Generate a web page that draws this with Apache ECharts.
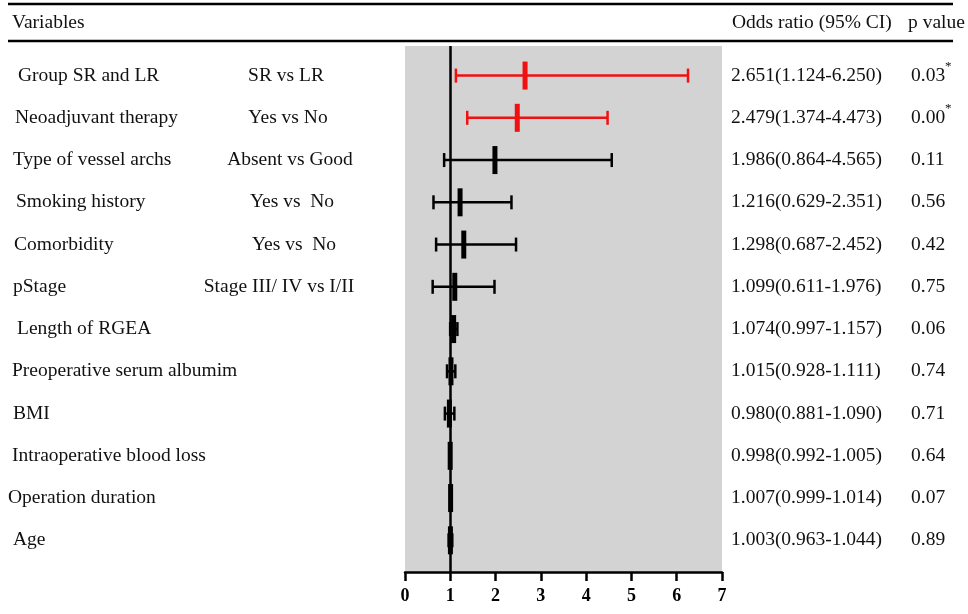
<!DOCTYPE html>
<html>
<head>
<meta charset="utf-8">
<script src="https://cdn.jsdelivr.net/npm/echarts@6/dist/echarts.min.js"></script>
<style>
    html, body {margin: 0; padding: 0; background: #ffffff;}
    #main {width: 968px; height: 614px;}
</style>
</head>
<body>
<div id="main"></div>
<script>
// rows, top to bottom
const variables = ['Group SR and LR', 'Neoadjuvant therapy', 'Type of vessel archs', 'Smoking history',
    'Comorbidity', 'pStage', 'Length of RGEA', 'Preoperative serum albumim', 'BMI',
    'Intraoperative blood loss', 'Operation duration', 'Age'];
const comparisons = ['SR vs LR', 'Yes vs No', 'Absent vs Good', 'Yes vs  No', 'Yes vs  No',
    'Stage III/ IV vs I/II', '', '', '', '', '', ''];
const oddsRatio = [2.651, 2.479, 1.986, 1.216, 1.298, 1.099, 1.074, 1.015, 0.980, 0.998, 1.007, 1.003];
const ciLow = [1.124, 1.374, 0.864, 0.629, 0.687, 0.611, 0.997, 0.928, 0.881, 0.992, 0.999, 0.963];
const ciHigh = [6.250, 4.473, 4.565, 2.351, 2.452, 1.976, 1.157, 1.111, 1.090, 1.005, 1.014, 1.044];
const pValues = ['0.03', '0.00', '0.11', '0.56', '0.42', '0.75', '0.06', '0.74', '0.71', '0.64', '0.07', '0.89'];
const xTicks = [0, 1, 2, 3, 4, 5, 6, 7];

// label placement (the source table is indented by hand)
const labelLeft = [18, 15, 13, 16, 14, 13, 17, 12, 13, 12, 8, 13];
const compCenter = [286, 288, 290, 292, 294, 279, 0, 0, 0, 0, 0, 0];

const FONT = '"Liberation Serif", "Times New Roman", serif';
const FS = '19.5px ';
const RED = '#f01010';

let chart = echarts.init(document.getElementById('main'), null, {renderer: 'canvas'});

const ciData = oddsRatio.map((v, i) => [i, ciLow[i], ciHigh[i], v, parseFloat(pValues[i]) < 0.05 ? 1 : 0]);

function renderCI(params, api) {
    const y = api.value(0);
    const lo = api.coord([api.value(1), y]);
    const hi = api.coord([api.value(2), y]);
    const mid = api.coord([api.value(3), y]);
    const color = api.value(4) ? RED : '#000000';
    const ls = {stroke: color, lineWidth: 2.5};
    return {
        type: 'group',
        children: [
            {type: 'line', shape: {x1: lo[0], y1: lo[1], x2: hi[0], y2: hi[1]}, style: ls},
            {type: 'line', shape: {x1: lo[0], y1: lo[1] - 7, x2: lo[0], y2: lo[1] + 7}, style: ls},
            {type: 'line', shape: {x1: hi[0], y1: hi[1] - 7, x2: hi[0], y2: hi[1] + 7}, style: ls},
            {type: 'rect', shape: {x: mid[0] - 2.5, y: mid[1] - 14, width: 5, height: 28}, style: {fill: color}}
        ]
    };
}

function renderText(params, api) {
    const i = api.value(0);
    const y = api.coord([0, i])[1];
    const base = {fill: '#111', font: FS + FONT, textVerticalAlign: 'middle'};
    const orText = oddsRatio[i].toFixed(3) + '(' + ciLow[i].toFixed(3) + '-' + ciHigh[i].toFixed(3) + ')';
    const children = [
        {type: 'text', style: Object.assign({}, base, {x: labelLeft[i], y: y, text: variables[i], textAlign: 'left'})},
        {type: 'text', style: Object.assign({}, base, {x: 731, y: y, text: orText, textAlign: 'left'})},
        {type: 'text', style: Object.assign({}, base, {x: 911, y: y, text: pValues[i], textAlign: 'left'})}
    ];
    if (comparisons[i]) {
        children.push({type: 'text', style: Object.assign({}, base, {x: compCenter[i], y: y, text: comparisons[i], textAlign: 'center'})});
    }
    if (parseFloat(pValues[i]) < 0.05) {
        children.push({type: 'text', style: {x: 945, y: y - 9, text: '*', fill: '#111', font: '13px ' + FONT, textAlign: 'left', textVerticalAlign: 'middle'}});
    }
    return {type: 'group', children: children};
}

let option = {
    backgroundColor: '#ffffff',
    animation: false,
    grid: {
        left: 405, right: 246, top: 46, bottom: 42,
        show: true, backgroundColor: '#d3d3d3', borderWidth: 0
    },
    xAxis: {
        type: 'value', min: xTicks[0], max: xTicks[xTicks.length - 1], interval: 1,
        position: 'bottom',
        axisLine: {show: true, onZero: false, lineStyle: {color: '#000', width: 2.5}},
        axisTick: {show: true, inside: false, length: 9, lineStyle: {color: '#000', width: 2.5}},
        axisLabel: {color: '#000', fontFamily: FONT, fontWeight: 'bold', fontSize: 18, margin: 15},
        splitLine: {show: false}
    },
    yAxis: {
        type: 'value', inverse: true, min: -0.7, max: variables.length - 0.25,
        show: false, splitLine: {show: false}
    },
    graphic: [
        {type: 'line', shape: {x1: 8, y1: 4, x2: 953, y2: 4}, style: {stroke: '#000', lineWidth: 2.5}},
        {type: 'line', shape: {x1: 8, y1: 41, x2: 953, y2: 41}, style: {stroke: '#000', lineWidth: 2.5}},
        {type: 'text', left: 12, top: 13, style: {text: 'Variables', font: FS + FONT, fill: '#111'}},
        {type: 'text', left: 732, top: 13, style: {text: 'Odds ratio (95% CI)', font: FS + FONT, fill: '#111'}},
        {type: 'text', left: 908, top: 13, style: {text: 'p value', font: FS + FONT, fill: '#111'}}
    ],
    series: [
        {
            type: 'line', data: [], silent: true,
            markLine: {
                silent: true, symbol: 'none', label: {show: false},
                lineStyle: {color: '#000', width: 2.5, type: 'solid'},
                data: [{xAxis: 1}]
            }
        },
        {type: 'custom', renderItem: renderCI, data: ciData, clip: false, z: 3},
        {type: 'custom', renderItem: renderText, data: variables.map((v, i) => [i]), clip: false, silent: true}
    ]
};

chart.setOption(option);
</script>
</body>
</html>
